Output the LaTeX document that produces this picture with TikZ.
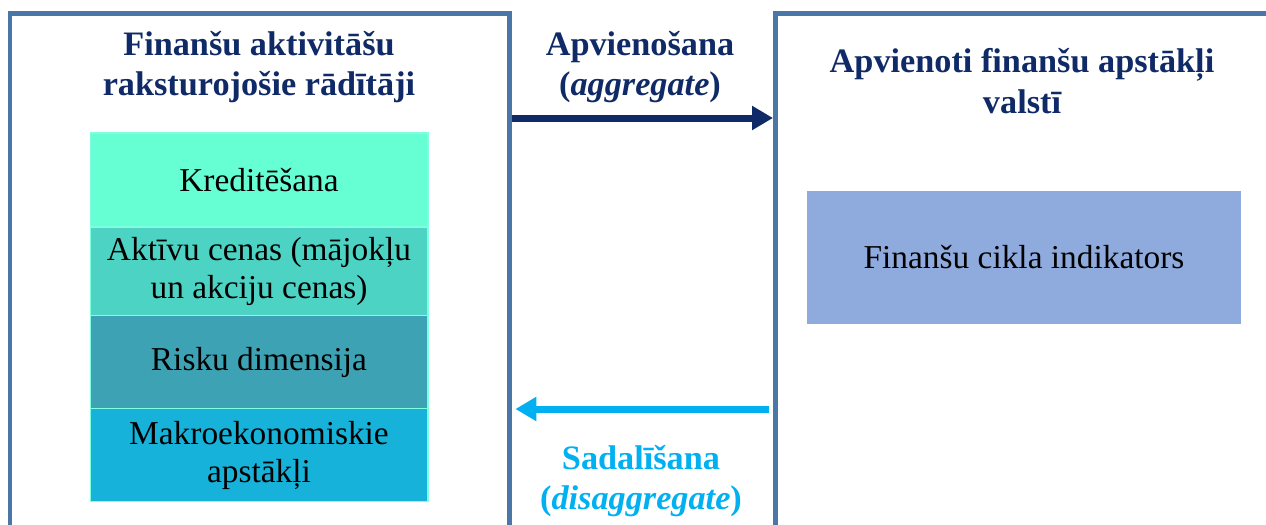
\documentclass[tikz,border=0pt]{standalone}
\usepackage{fontspec}
\setmainfont{Liberation Serif}
\usetikzlibrary{arrows.meta, positioning}
\usepackage{xcolor}

\definecolor{framecol}{HTML}{4A76A8}
\definecolor{navytext}{HTML}{0F2A66}
\definecolor{skyarrow}{HTML}{00B0F0}
\definecolor{kredcol}{HTML}{66FFD4}
\definecolor{aktcol}{HTML}{4DD3C3}
\definecolor{riskcol}{HTML}{3DA3B4}
\definecolor{makrocol}{HTML}{17B2D9}
\definecolor{cellline}{HTML}{80FFE0}
\definecolor{indcol}{HTML}{8FAADC}

\begin{document}
\begin{tikzpicture}[
    x=0.02cm, y=-0.02cm,
    frame/.style={rectangle, draw=framecol, line width=0.09cm, outer sep=0pt, anchor=north west, minimum height=12cm},
    title/.style={font=\fontsize{19.5}{23}\selectfont\bfseries, text=navytext, align=center},
    cell/.style={rectangle, draw=cellline, line width=0.6pt, outer sep=0pt, minimum width=6.76cm, align=center, font=\fontsize{19}{22}\selectfont},
    aggarrow/.style={-{Triangle[length=0.42cm, width=0.46cm]}, line width=0.14cm, draw=navytext},
    disarrow/.style={-{Triangle[length=0.42cm, width=0.46cm]}, line width=0.14cm, draw=skyarrow}
]
\useasboundingbox (0,0) rectangle (1266,524);
\clip (0,0) rectangle (1266,524);

% frames
\node[frame, minimum width=9.994cm] (lframe) at (9.8,13.5) {};
\node[frame, minimum width=12cm] (rframe) at (775.5,13.5) {};

% titles
\node[title] (ltitle) at (259,67) {Finanšu aktivitāšu\\raksturojošie rādītāji};
\node[title] (rtitle) at (1022,81) {Apvienoti finanšu apstākļi\\valstī};

% stack of indicators
\node[cell, fill=kredcol, minimum height=1.88cm, anchor=north] (kred) at (259,133) {Kreditēšana};
\node[cell, fill=aktcol, minimum height=1.78cm, below=0pt of kred] (akt) {Aktīvu cenas (mājokļu\\un akciju cenas)};
\node[cell, fill=riskcol, minimum height=1.86cm, below=0pt of akt] (risk) {Risku dimensija};
\node[cell, fill=makrocol, minimum height=1.86cm, below=0pt of risk] (makro) {Makroekonomiskie\\apstākļi};

% composite indicator
\node[cell, draw=none, fill=indcol, minimum width=8.68cm, minimum height=2.66cm] (ind) at (1024,257.5) {Finanšu cikla indikators};

% arrows and labels
\node[title] (agg) at (640,67) {Apvienošana\\(\textit{aggregate})};
\node[title, text=skyarrow] (dis) at (641,481) {Sadalīšana\\(\textit{disaggregate})};

\draw[aggarrow, shorten <=0.05cm, shorten >=0.05cm] (lframe.east |- 0,118) -- (rframe.west |- 0,118);
\draw[disarrow, shorten <=0.14cm, shorten >=0.12cm] (rframe.west |- 0,409) -- (lframe.east |- 0,409);

\end{tikzpicture}
\end{document}
